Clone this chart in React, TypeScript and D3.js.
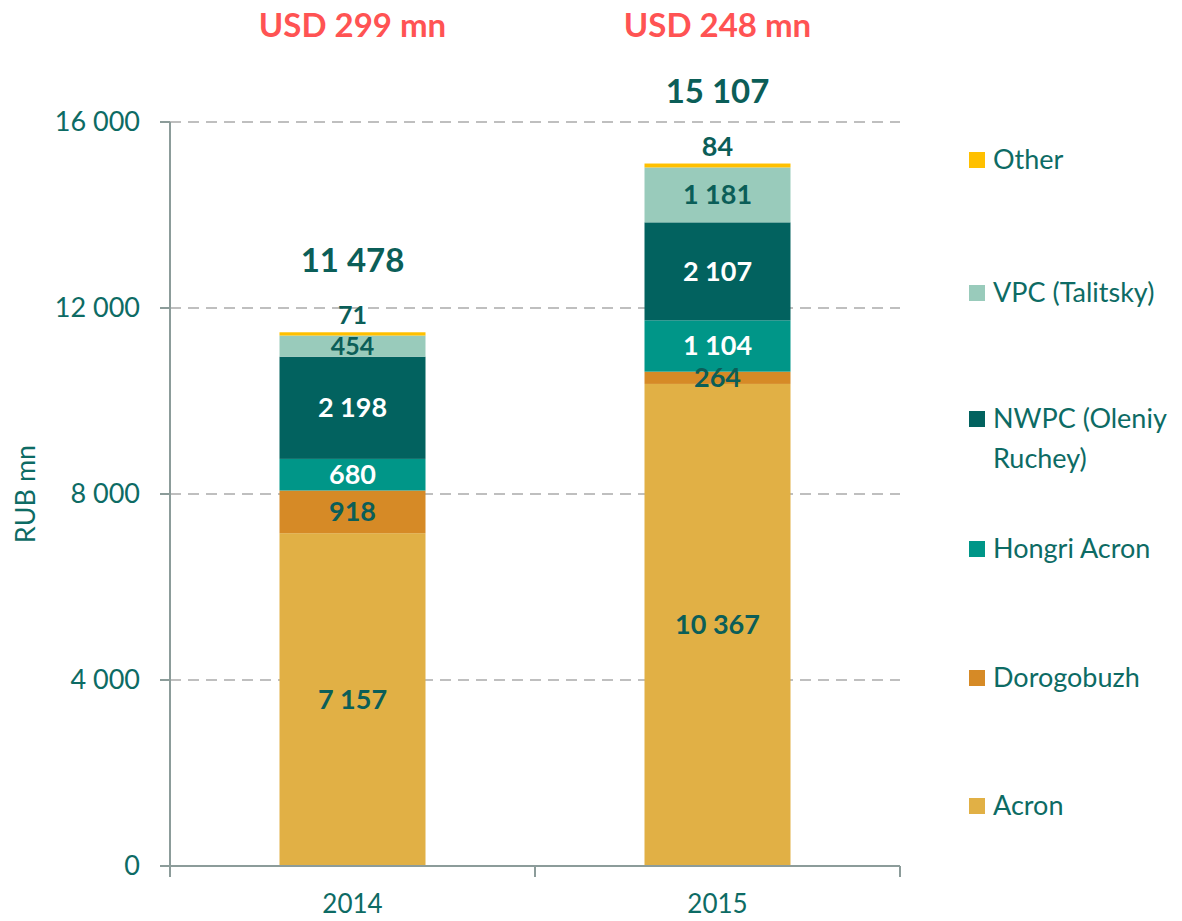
import React from "react";
import * as d3 from "d3";

const years = ["2014", "2015"];
const seriesNames = ["Acron", "Dorogobuzh", "Hongri Acron", "NWPC (Oleniy Ruchey)", "VPC (Talitsky)", "Other"];
const acron = [7157, 10367];
const dorogobuzh = [918, 264];
const hongri = [680, 1104];
const nwpc = [2198, 2107];
const vpc = [454, 1181];
const other = [71, 84];
const totals = [11478, 15107];
const usdLabels = ["USD 299 mn", "USD 248 mn"];
const yTicks = [0, 4000, 8000, 12000, 16000];

const colors = ["#e1b045", "#d68a26", "#009688", "#02625f", "#99cbbb", "#ffc000"];
const labelColors = ["#0b5e58", "#0b5e58", "#ffffff", "#ffffff", "#0b5e58", "#0b5e58"];
const legendLines = [["Acron"], ["Dorogobuzh"], ["Hongri Acron"], ["NWPC (Oleniy", "Ruchey)"], ["VPC (Talitsky)"], ["Other"]];
const legendY = [806, 678, 549, 419, 293, 160];

const fmt = (v: number) => {
  const s = String(Math.round(v));
  return s.replace(/\B(?=(\d{3})+(?!\d))/g, " ");
};

const FONT = "Lato, 'Open Sans', sans-serif";
const TEAL = "#0b5e58";

export default function App() {
  const values = [acron, dorogobuzh, hongri, nwpc, vpc, other];
  const data = years.map((y, i) => {
    const o: any = { year: y };
    seriesNames.forEach((s, k) => (o[s] = values[k][i]));
    return o;
  });
  const stack = d3.stack<any>().keys(seriesNames)(data);

  const x0 = 170, x1 = 900, yBottom = 866, yTop = 122;
  const x = d3.scaleBand().domain(years).range([x0, x1]).paddingInner(0.6).paddingOuter(0.3);
  const band = d3.scaleBand().domain(years).range([x0, x1]);
  const y = d3.scaleLinear().domain([0, 16000]).range([yBottom, yTop]);

  return (
    <svg width={1182} height={921} style={{ position: "absolute", left: 0, top: 0, background: "#fff" }} fontFamily={FONT}>
      {/* gridlines */}
      {yTicks.filter((t) => t > 0).map((t) => (
        <line key={t} x1={x0} x2={x1} y1={y(t)} y2={y(t)} stroke="#bfbfbf" strokeWidth={2} strokeDasharray="11 7" />
      ))}
      {/* bars */}
      {stack.map((layer, k) =>
        layer.map((d, i) => (
          <rect key={k + "-" + i} x={x(years[i])} width={x.bandwidth()} y={y(d[1])} height={y(d[0]) - y(d[1])} fill={colors[k]} />
        ))
      )}
      {/* segment labels */}
      {stack.map((layer, k) =>
        layer.map((d, i) => {
          const v = d[1] - d[0];
          const cx = x(years[i])! + x.bandwidth() / 2;
          let cy = (y(d[0]) + y(d[1])) / 2;
          if (k === 5) cy = y(d[1]) - 17;
          return (
            <text key={"l" + k + "-" + i} x={cx} y={cy} dy="0.35em" textAnchor="middle" fontSize={k >= 4 && i === 0 ? 25 : 27} fontWeight="bold" fill={labelColors[k]}>
              {fmt(v)}
            </text>
          );
        })
      )}
      {/* totals */}
      {years.map((yr, i) => (
        <text key={"t" + yr} x={x(yr)! + x.bandwidth() / 2} y={y(totals[i]) - 72} dy="0.35em" textAnchor="middle" fontSize={33} fontWeight="bold" fill={TEAL}>
          {fmt(totals[i])}
        </text>
      ))}
      {years.map((yr, i) => (
        <text key={"u" + yr} x={x(yr)! + x.bandwidth() / 2} y={25} dy="0.35em" textAnchor="middle" fontSize={33} fontWeight="bold" fill="#ff5353">
          {usdLabels[i]}
        </text>
      ))}
      {/* y axis */}
      <line x1={x0} x2={x0} y1={yTop} y2={yBottom} stroke="#8c9c9a" strokeWidth={2} />
      {yTicks.map((t) => (
        <g key={"yt" + t}>
          <line x1={x0 - 10} x2={x0} y1={y(t)} y2={y(t)} stroke="#8c9c9a" strokeWidth={2} />
          <text x={140} y={y(t)} dy="0.35em" textAnchor="end" fontSize={27} fill="#0d6b64">
            {fmt(t)}
          </text>
        </g>
      ))}
      {/* x axis */}
      <line x1={x0} x2={x1} y1={yBottom} y2={yBottom} stroke="#8c9c9a" strokeWidth={2} />
      {[x0, ...years.map((yr) => band(yr)! + band.bandwidth())].map((px, i) => (
        <line key={"xt" + i} x1={px} x2={px} y1={yBottom} y2={yBottom + 11} stroke="#8c9c9a" strokeWidth={2} />
      ))}
      {years.map((yr) => (
        <text key={"xl" + yr} x={band(yr)! + band.bandwidth() / 2} y={904} dy="0.35em" textAnchor="middle" fontSize={26} fill="#0d6b64">
          {yr}
        </text>
      ))}
      <text transform={`translate(26, ${y(8000)}) rotate(-90)`} textAnchor="middle" dy="0.35em" fontSize={27} fill="#0d6b64">
        RUB mn
      </text>
      {/* legend */}
      {legendLines.map((lines, k) => (
        <g key={"lg" + k}>
          <rect x={969} y={legendY[k] - 8} width={16} height={16} fill={colors[k]} />
          {lines.map((ln, j) => (
            <text key={j} x={993} y={legendY[k] + j * 40} dy="0.35em" fontSize={27} fill="#0d6b64">
              {ln}
            </text>
          ))}
        </g>
      ))}
    </svg>
  );
}
